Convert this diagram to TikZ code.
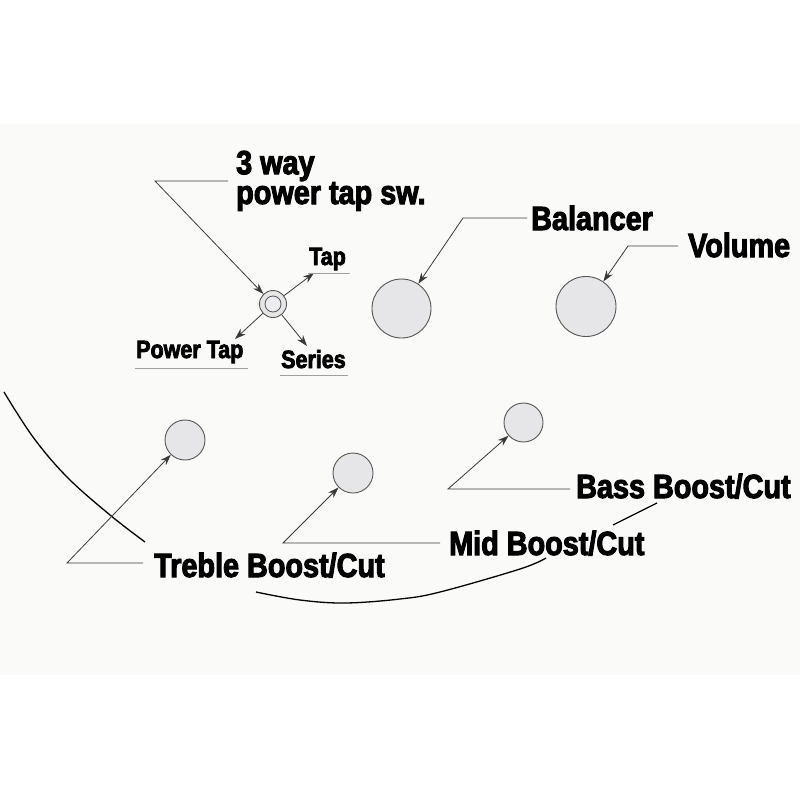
\documentclass[tikz,border=0pt]{standalone}
\usepackage{fontspec}
\newfontfamily\lblfont{Liberation Sans}[UprightFont={* Bold}, FakeStretch=0.86, FakeBold=3]
\usetikzlibrary{arrows.meta}
\definecolor{bgpanel}{HTML}{FAFBF8}
\definecolor{knobfill}{HTML}{E6E6E8}
\definecolor{knobline}{HTML}{555555}
\definecolor{leadcol}{HTML}{3A3A3A}
\definecolor{ulcol}{HTML}{A0A0A0}
\tikzset{
  knob/.style={circle, draw=knobline, fill=knobfill, line width=0.9pt, inner sep=0pt},
  lead/.style={draw=leadcol, line width=0.8pt},
  leadarrow/.style={lead, -{Stealth[length=11pt, width=7.5pt]}},
  biglbl/.style={font=\lblfont\fontsize{33.5}{26}\selectfont, inner sep=0pt, anchor=base west},
  smalllbl/.style={font=\lblfont\fontsize{25}{27}\selectfont, inner sep=0pt, anchor=base west},
  uline/.style={draw=ulcol, line width=0.8pt},
  body/.style={draw=black, line width=1.3pt}
}
\begin{document}
\begin{tikzpicture}[x=1pt, y=-1pt]
\useasboundingbox (0,0) rectangle (800,800);
\fill[white] (0,0) rectangle (800,800);
\fill[bgpanel] (0,124) rectangle (800,675);

% body outline (visible segments)
\draw[body] plot[smooth, tension=0.6] coordinates {(4,392) (33,437) (67,477) (110,515) (145,542)};
\draw[body] plot[smooth, tension=0.6] coordinates {(256,592) (300,600) (345,603) (400,599) (440,592) (520,569) (546,558)};
\draw[body] plot[smooth, tension=0.6] coordinates {(613,525) (635,514) (657,503)};

% knobs
\node[knob, minimum size=27pt] (sw) at (273,304) {};
\node[circle, draw=knobline, line width=0.8pt, fill=knobfill!70!white, minimum size=16pt, inner sep=0pt] (swin) at (273,304) {};
\node[knob, minimum size=59pt] (balc) at (401.5,308.5) {};
\node[knob, minimum size=60pt] (volc) at (586,306.5) {};
\node[knob, minimum size=40pt] (trec) at (185,440) {};
\node[knob, minimum size=40pt] (midc) at (353,473) {};
\node[knob, minimum size=39pt] (basc) at (523.5,422.5) {};

% leader coordinates
\coordinate (twL) at (228,181);
\coordinate (twE) at (155,181);
\coordinate (balL) at (527,218);
\coordinate (balE) at (463,218);
\coordinate (volL) at (678,246);
\coordinate (volE) at (628,246);
\coordinate (treL) at (143,563);
\coordinate (treE) at (67,563);
\coordinate (midL) at (440,543);
\coordinate (midE) at (283,543);
\coordinate (basL) at (570,489);
\coordinate (basE) at (448,489);
\coordinate (tapE) at (314,273);
\coordinate (ptE) at (235,339);
\coordinate (serE) at (307,346);

% leaders
\draw[leadarrow] (twL) -- (twE) -- (sw);
\draw[leadarrow] (balL) -- (balE) -- (balc);
\draw[leadarrow] (volL) -- (volE) -- (volc);
\draw[leadarrow] (treL) -- (treE) -- (trec);
\draw[leadarrow] (midL) -- (midE) -- (midc);
\draw[leadarrow] (basL) -- (basE) -- (basc);
\draw[leadarrow] (sw) -- (tapE);
\draw[leadarrow] (sw) -- (ptE);
\draw[leadarrow] (sw) -- (serE);

% big labels
\node[biglbl, align=left] (tw) at (236,204) {3 way\\power tap sw.};
\node[biglbl] (bal) at (531,230) {Balancer};
\node[biglbl] (vol) at (688,257) {Volume};
\node[biglbl] (tre) at (154,577) {Treble Boost/Cut};
\node[biglbl] (mid) at (449,555) {Mid Boost/Cut};
\node[biglbl] (bas) at (576,498) {Bass Boost/Cut};

% small labels
\node[smalllbl] (tap) at (309,265) {Tap};
\node[smalllbl] (pt) at (136,358) {Power Tap};
\node[smalllbl] (ser) at (281,368) {Series};
\draw[uline] (308,273) -- (350,273);
\draw[uline] (135,368) -- (248,368);
\draw[uline] (280,375) -- (348,375);
\end{tikzpicture}
\end{document}
